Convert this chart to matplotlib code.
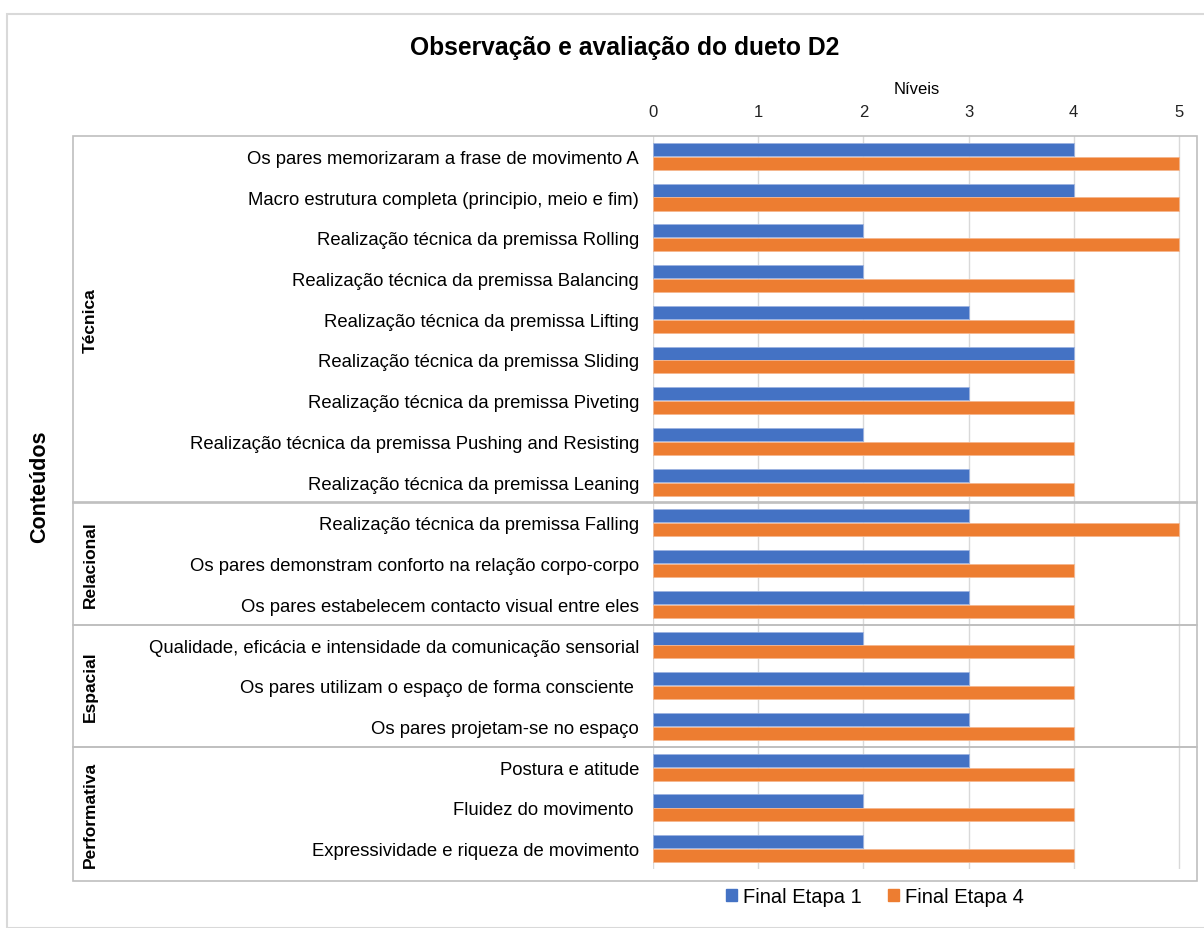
import matplotlib.pyplot as plt
import matplotlib.transforms as mtransforms
from matplotlib.patches import Rectangle, Patch
import numpy as np

plt.rcParams['font.family'] = ['Liberation Sans', 'DejaVu Sans']

categorias = [
    "Os pares memorizaram a frase de movimento A",
    "Macro estrutura completa (principio, meio e fim)",
    "Realização técnica da premissa Rolling",
    "Realização técnica da premissa Balancing",
    "Realização técnica da premissa Lifting",
    "Realização técnica da premissa Sliding",
    "Realização técnica da premissa Piveting",
    "Realização técnica da premissa Pushing and Resisting",
    "Realização técnica da premissa Leaning",
    "Realização técnica da premissa Falling",
    "Os pares demonstram conforto na relação corpo-corpo",
    "Os pares estabelecem contacto visual entre eles",
    "Qualidade, eficácia e intensidade da comunicação sensorial",
    "Os pares utilizam o espaço de forma consciente ",
    "Os pares projetam-se no espaço",
    "Postura e atitude",
    "Fluidez do movimento ",
    "Expressividade e riqueza de movimento",
]
etapa1 = [4, 4, 2, 2, 3, 4, 3, 2, 3, 3, 3, 3, 2, 3, 3, 3, 2, 2]
etapa4 = [5, 5, 5, 4, 4, 4, 4, 4, 4, 5, 4, 4, 4, 4, 4, 4, 4, 4]
grupos = ["Técnica", "Relacional", "Espacial", "Performativa"]
grupo_tam = [9, 3, 3, 3]

W, H = 1204, 929
fig = plt.figure(figsize=(W / 100, H / 100), dpi=100)
ax = fig.add_axes([653 / W, 1 - 870 / H, (1181 - 653) / W, (870 - 137) / H])

y = np.arange(len(categorias))
h = 0.32
azul = "#4472C4"
laranja = "#ED7D31"
b1 = ax.barh(y - h / 2 - 0.01, etapa1, height=h, color=azul, edgecolor="#9DB3E0", linewidth=0.6, zorder=3)
b2 = ax.barh(y + h / 2 + 0.01, etapa4, height=h, color=laranja, edgecolor="#F5B68E", linewidth=0.6, zorder=3)

ax.set_ylim(len(categorias) - 0.5, -0.5)
ax.set_xlim(0, 5.02)
ax.set_xticks(range(6))
ax.xaxis.tick_top()
ax.xaxis.set_label_position("top")
ax.set_xlabel("Níveis", fontsize=12, labelpad=8)
ax.tick_params(axis="x", length=0, labelsize=12, pad=12, colors="#222222")
ax.set_yticks(y)
ax.set_yticklabels(categorias, fontsize=13.3)
ax.tick_params(axis="y", length=0, pad=10)
for s in ax.spines.values():
    s.set_visible(False)
ax.grid(axis="x", color="#D9D9D9", linewidth=1, zorder=0)

# caixas dos grupos
trans = mtransforms.blended_transform_factory(fig.transFigure, ax.transData)
inicio = -0.5
for i, (g, n) in enumerate(zip(grupos, grupo_tam)):
    fim = inicio + n
    extra = 0.3 if i == len(grupos) - 1 else 0
    r = Rectangle((73 / W, inicio), (1197 - 73) / W, n + extra, transform=trans,
                  fill=False, edgecolor="#BFBFBF", linewidth=1.2, clip_on=False)
    fig.add_artist(r)
    fig.text(90 / W, (inicio + fim + extra) / 2, g, rotation=90, ha="center", va="center",
             fontsize=12.5, fontweight="bold", transform=trans)
    inicio = fim

fig.text(40 / W, 1 - 487 / H, "Conteúdos", rotation=90, ha="center", va="center",
         fontsize=15.5, fontweight="bold")
fig.text(625 / W, 1 - 48 / H, "Observação e avaliação do dueto D2", ha="center", va="center",
         fontsize=17.7, fontweight="bold")

fig.add_artist(Rectangle((7 / W, 0), 1.0, 1 - 15 / H, transform=fig.transFigure,
                         fill=False, edgecolor="#D9D9D9", linewidth=1.5))

handles = [Patch(color=azul), Patch(color=laranja)]
fig.legend(handles, ["Final Etapa 1", "Final Etapa 4"], loc="center",
           bbox_to_anchor=(875 / W, 1 - 898 / H), ncol=2, frameon=False, fontsize=14.5,
           handlelength=0.55, handleheight=0.55, handletextpad=0.3, columnspacing=1.3)

fig.savefig("out.png", dpi=100, facecolor="white")
